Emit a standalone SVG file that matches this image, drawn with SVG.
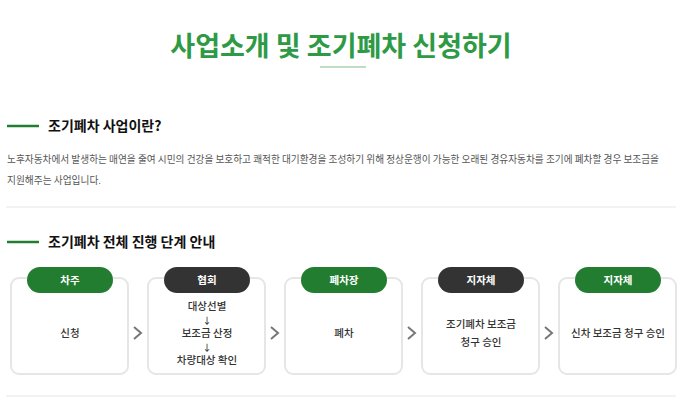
<svg xmlns="http://www.w3.org/2000/svg" width="680" height="400" viewBox="0 0 680 400">
<style>
text{font-family:"Noto Sans CJK KR","Noto Sans",sans-serif;}
.title{font-size:27px;font-weight:700;fill:#2e9a46;text-anchor:middle;}
.h2{font-size:14px;font-weight:700;fill:#111;}
.p{font-size:9.7px;fill:#555;}
.card{fill:#fff;stroke:#e6e6e6;stroke-width:2;}
.pg{fill:#237d31;}
.pd{fill:#333;}
.pt{font-size:10.5px;font-weight:700;fill:#fff;text-anchor:middle;}
.ct{font-size:10.5px;font-weight:500;fill:#333;text-anchor:middle;}
.ar{font-size:9px;font-weight:500;fill:#333;text-anchor:middle;}
.sep{stroke:#efefef;stroke-width:1.5;}
.chev{fill:none;stroke:#777;stroke-width:2;}
</style>
<rect width="680" height="400" fill="#fff"/>
<text class="title" x="341" y="56">사업소개 및 조기폐차 신청하기</text>
<line x1="320" y1="67" x2="366" y2="67" stroke="#a9d3b1" stroke-width="1.5"/>
<line x1="7" y1="126" x2="39" y2="126" stroke="#237d31" stroke-width="2.5"/>
<text class="h2" x="48" y="131">조기폐차 사업이란?</text>
<text class="p" x="7" y="163" textLength="652" lengthAdjust="spacingAndGlyphs">노후자동차에서 발생하는 매연을 줄여 시민의 건강을 보호하고 쾌적한 대기환경을 조성하기 위해 정상운행이 가능한 오래된 경유자동차를 조기에 폐차할 경우 보조금을</text>
<text class="p" x="7" y="184">지원해주는 사업입니다.</text>
<line class="sep" x1="6" y1="207" x2="676" y2="207"/>
<line x1="7" y1="242" x2="39" y2="242" stroke="#237d31" stroke-width="2.5"/>
<text class="h2" x="48" y="247">조기폐차 전체 진행 단계 안내</text>
<g id="node1">
<rect class="card" x="11" y="278" width="117" height="96" rx="8"/>
<rect class="pg" x="27" y="267" width="86" height="26" rx="13"/>
<text class="pt" x="70" y="284">차주</text>
<text class="ct" x="70" y="337">신청</text>
</g>
<g id="node2">
<rect class="card" x="148" y="278" width="117" height="96" rx="8"/>
<rect class="pd" x="164" y="267" width="86" height="26" rx="13"/>
<text class="pt" x="207" y="284">협회</text>
<text class="ct" x="207" y="310">대상선별</text>
<text class="ar" x="207" y="323.5">↓︎</text>
<text class="ct" x="207" y="337">보조금 산정</text>
<text class="ar" x="207" y="350.5">↓︎</text>
<text class="ct" x="207" y="364">차량대상 확인</text>
</g>
<g id="node3">
<rect class="card" x="285" y="278" width="117" height="96" rx="8"/>
<rect class="pg" x="301" y="267" width="86" height="26" rx="13"/>
<text class="pt" x="344" y="284">폐차장</text>
<text class="ct" x="344" y="337">폐차</text>
</g>
<g id="node4">
<rect class="card" x="422" y="278" width="117" height="96" rx="8"/>
<rect class="pd" x="438" y="267" width="86" height="26" rx="13"/>
<text class="pt" x="481" y="284">지자체</text>
<text class="ct" x="481" y="328">조기폐차 보조금</text>
<text class="ct" x="481" y="346">청구 승인</text>
</g>
<g id="node5">
<rect class="card" x="559" y="278" width="117" height="96" rx="8"/>
<rect class="pg" x="575" y="267" width="86" height="26" rx="13"/>
<text class="pt" x="618" y="284">지자체</text>
<text class="ct" x="618" y="337">신차 보조금 청구 승인</text>
</g>
<g id="connectors">
<polyline class="chev" points="134,327 141,333 134,339"/>
<polyline class="chev" points="271,327 278,333 271,339"/>
<polyline class="chev" points="408,327 415,333 408,339"/>
<polyline class="chev" points="545,327 552,333 545,339"/>
</g>
<line class="sep" x1="6" y1="396" x2="676" y2="396"/>
</svg>
